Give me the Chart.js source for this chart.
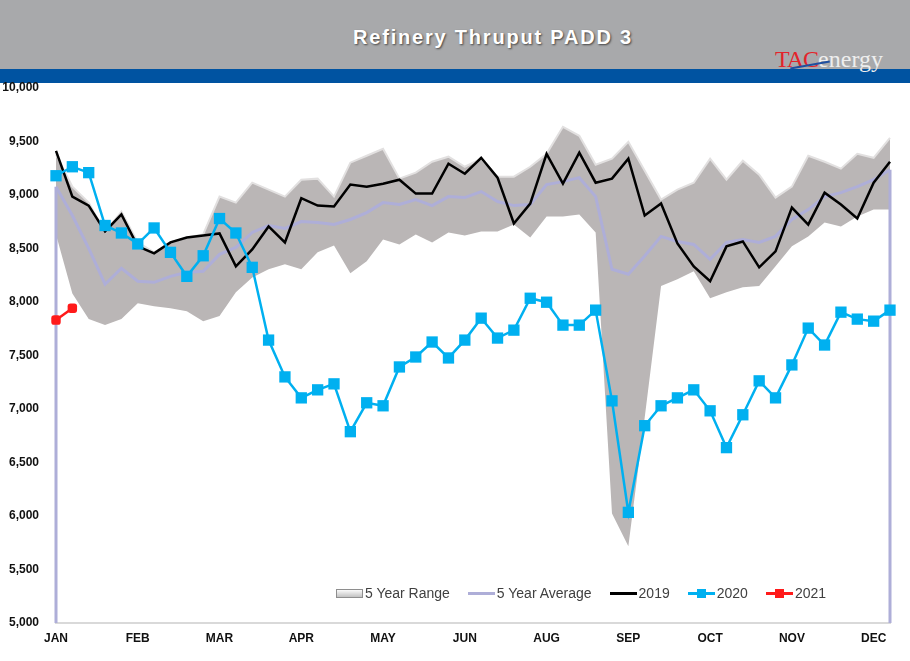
<!DOCTYPE html>
<html>
<head>
<meta charset="utf-8">
<script src="https://cdn.jsdelivr.net/npm/chart.js@4.4.0/dist/chart.umd.min.js"></script>
<style>
  body { margin: 0; width: 910px; height: 661px; background: #fff; position: relative; overflow: hidden; font-family: "Liberation Sans", Arial, sans-serif; }
  .band-gray { position: absolute; left: 0; top: 0; width: 910px; height: 69px; background: #a8a9ab; }
  .band-blue { position: absolute; left: 0; top: 69px; width: 910px; height: 14px; background: #0053a1; }
  .title { position: absolute; left: 0; width: 986px; top: 26px; text-align: center; color: #fff; font-weight: bold; font-size: 20px; letter-spacing: 1.8px; text-shadow: 1px 1px 2px #444; }
  .logo { position: absolute; left: 775px; top: 46px; font-family: "Liberation Serif", "DejaVu Serif", serif; font-size: 24px; letter-spacing: -1px; }
  .logo .tac { color: #e3242b; }
  .logo .en { color: #eeeeee; letter-spacing: 0; }
  .swoosh { position: absolute; left: 790px; top: 64px; width: 40px; height: 1.5px; background: #1f4fa0; transform: rotate(-10deg); }
  #wrap { position: absolute; left: 0; top: 0; width: 910px; height: 661px; }
  .legend { position: absolute; left: 336px; top: 585px; display: flex; align-items: center; font-size: 14px; color: #404040; white-space: nowrap; }
  .item { display: flex; align-items: center; margin-right: 18px; }
  .icon { position: relative; width: 27px; height: 16px; margin-right: 2px; }
  .icon .ln { position: absolute; left: 0; top: 7px; width: 27px; height: 3px; }
  .icon .mk { position: absolute; left: 9px; top: 4px; width: 9px; height: 9px; }
  .icon .box { position: absolute; left: 0; top: 4px; width: 25px; height: 7px; border: 1px solid #8e8e8e; background: linear-gradient(#fafafa, #c2c2c2); }
</style>
</head>
<body>
<div class="band-gray"></div>
<div class="band-blue"></div>
<div class="title">Refinery Thruput PADD 3</div>
<div class="logo"><span class="tac">TAC</span><span class="en">energy</span></div>
<div class="swoosh"></div>
<div id="wrap"><canvas id="chart" width="910" height="661"></canvas></div>
<div class="legend" id="legend"></div>

<script>
// month labels shown every 5th week (the source skips JUL)
const monthTicks = ["JAN", "FEB", "MAR", "APR", "MAY", "JUN", "AUG", "SEP", "OCT", "NOV", "DEC"];
const weekCount = 52;

const rangeHigh = [9380, 9078, 8929, 8650, 8846, 8557, 8464, 8557, 8603, 8631, 8985, 8929, 9115,
  9050, 8985, 9143, 9153, 8985, 9302, 9367, 9432, 9153, 9209, 9311, 9358, 9264, 9339, 9171, 9171,
  9264, 9385, 9637, 9553, 9283, 9339, 9497, 9227, 8957, 9050, 9115, 9339, 9143, 9320, 9190, 8976,
  9078, 9367, 9311, 9246, 9385, 9348, 9534];
const rangeLow = [8630, 8080, 7840, 7784, 7840, 7989, 7961, 7942, 7914, 7821, 7868, 8091, 8230,
  8306, 8352, 8306, 8464, 8529, 8268, 8380, 8585, 8538, 8631, 8557, 8650, 8622, 8660, 8660, 8724,
  8603, 8799, 8799, 8818, 8650, 6024, 5717, 6920, 8150, 8212, 8287, 8035, 8091, 8138, 8150, 8333,
  8520, 8613, 8743, 8706, 8799, 8864, 8864];
const avg5 = [9078, 8808, 8501, 8166, 8315, 8194, 8184, 8240, 8278, 8287, 8445, 8510, 8650, 8715,
  8687, 8752, 8743, 8724, 8771, 8836, 8929, 8911, 8957, 8901, 8985, 8976, 9032, 8939, 8901, 8911,
  9097, 9125, 9162, 8985, 8306, 8259, 8430, 8613, 8566, 8538, 8399, 8557, 8585, 8557, 8613, 8771,
  8864, 8985, 9022, 9078, 9143, 9236];
const y2019 = [9413, 8985, 8901, 8660, 8818, 8520, 8455, 8557, 8603, 8622, 8641, 8333, 8492, 8706,
  8557, 8970, 8901, 8892, 9097, 9078, 9106, 9143, 9013, 9013, 9292, 9199, 9348, 9162, 8734, 8920,
  9385, 9106, 9395, 9115, 9153, 9339, 8808, 8920, 8548, 8333, 8194, 8520, 8566, 8324, 8473, 8883,
  8724, 9022, 8911, 8780, 9115, 9311];
const y2020 = [9180, 9264, 9209, 8715, 8645, 8543, 8692, 8464, 8240, 8432, 8780, 8645, 8324, 7644,
  7300, 7104, 7179, 7235, 6788, 7058, 7030, 7393, 7486, 7626, 7477, 7644, 7849, 7663, 7737, 8035,
  7998, 7784, 7784, 7924, 7076, 6034, 6844, 7030, 7104, 7179, 6983, 6639, 6946, 7263, 7104, 7412,
  7756, 7598, 7905, 7840, 7821, 7924];
const y2021 = [7831, 7942];

const labels = [];
for (let i = 0; i < weekCount; i++) {
  labels.push(i % 5 === 0 ? monthTicks[i / 5] : "");
}

const avgColor = "#aeaed8";

// the average line drops to the axis at both ends, like the source
const edgeLines = {
  id: "edgeLines",
  afterDatasetDraw(chart, args) {
    if (chart.data.datasets[args.index].label !== "5 Year Average") return;
    const pts = args.meta.data;
    const bottom = chart.chartArea.bottom;
    const ctx = chart.ctx;
    ctx.save();
    ctx.strokeStyle = avgColor;
    ctx.lineWidth = 3;
    [pts[0], pts[pts.length - 1]].forEach((p) => {
      ctx.beginPath();
      ctx.moveTo(p.x, p.y);
      ctx.lineTo(p.x, bottom);
      ctx.stroke();
    });
    ctx.restore();
  },
};

Chart.defaults.font.family = "'Liberation Sans', Arial, sans-serif";

new Chart(document.getElementById("chart"), {
  type: "line",
  data: {
    labels: labels,
    datasets: [
      {
        label: "5 Year Range",
        data: rangeHigh,
        borderColor: "#e2e0e0",
        borderWidth: 2,
        backgroundColor: "#bab6b6",
        fill: "+1",
        pointRadius: 0,
        tension: 0,
        order: 6,
      },
      {
        label: "range low",
        data: rangeLow,
        borderColor: "rgba(0,0,0,0)",
        borderWidth: 0,
        pointRadius: 0,
        fill: false,
        order: 5,
      },
      {
        label: "5 Year Average",
        data: avg5,
        borderColor: avgColor,
        borderWidth: 3,
        pointRadius: 0,
        fill: false,
        order: 4,
      },
      {
        label: "2019",
        data: y2019,
        borderColor: "#000000",
        borderWidth: 2.5,
        pointRadius: 0,
        fill: false,
        order: 3,
      },
      {
        label: "2020",
        data: y2020,
        borderColor: "#00b0f0",
        backgroundColor: "#00b0f0",
        borderWidth: 2.5,
        pointStyle: "rect",
        pointRadius: 8,
        pointBorderWidth: 0,
        fill: false,
        clip: false,
        order: 2,
      },
      {
        label: "2021",
        data: y2021,
        borderColor: "#ff1a1a",
        backgroundColor: "#ff1a1a",
        borderWidth: 2.5,
        pointStyle: "rectRounded",
        pointRadius: 5.5,
        pointBorderWidth: 0,
        fill: false,
        clip: false,
        order: 1,
      },
    ],
  },
  options: {
    responsive: false,
    animation: false,
    layout: { padding: { top: 88, right: 20, left: 0, bottom: 0 } },
    plugins: {
      legend: { display: false },
      title: { display: false },
      tooltip: { enabled: false },
    },
    scales: {
      x: {
        offset: false,
        grid: { display: false, drawTicks: false },
        border: { display: true, color: "#d9d9d9", width: 2 },
        ticks: {
          autoSkip: false,
          maxRotation: 0,
          padding: 8,
          color: "#111",
          font: { size: 12, weight: "bold" },
        },
        afterFit: (scale) => { scale.height = 38; },
      },
      y: {
        min: 5000,
        max: 10000,
        grid: { display: false, drawTicks: false },
        border: { display: false },
        ticks: {
          stepSize: 500,
          padding: 17,
          color: "#111",
          font: { size: 12, weight: "bold" },
          callback: (v) => v.toLocaleString("en-US"),
        },
        afterFit: (scale) => { scale.width = 56; },
      },
    },
  },
  plugins: [edgeLines],
});

// legend drawn as html, placed inside the plot like the source
const legendItems = [
  { name: "5 Year Range", kind: "box" },
  { name: "5 Year Average", kind: "line", color: avgColor },
  { name: "2019", kind: "line", color: "#000000" },
  { name: "2020", kind: "marker", color: "#00b0f0" },
  { name: "2021", kind: "marker", color: "#ff1a1a" },
];
const legendBox = document.getElementById("legend");
legendItems.forEach((it) => {
  const item = document.createElement("div");
  item.className = "item";
  let icon = '<div class="icon">';
  if (it.kind === "box") {
    icon += '<div class="box"></div>';
  } else {
    icon += `<div class="ln" style="background:${it.color}"></div>`;
    if (it.kind === "marker") icon += `<div class="mk" style="background:${it.color}"></div>`;
  }
  icon += "</div>";
  item.innerHTML = icon + `<span>${it.name}</span>`;
  legendBox.appendChild(item);
});
</script>
</body>
</html>
